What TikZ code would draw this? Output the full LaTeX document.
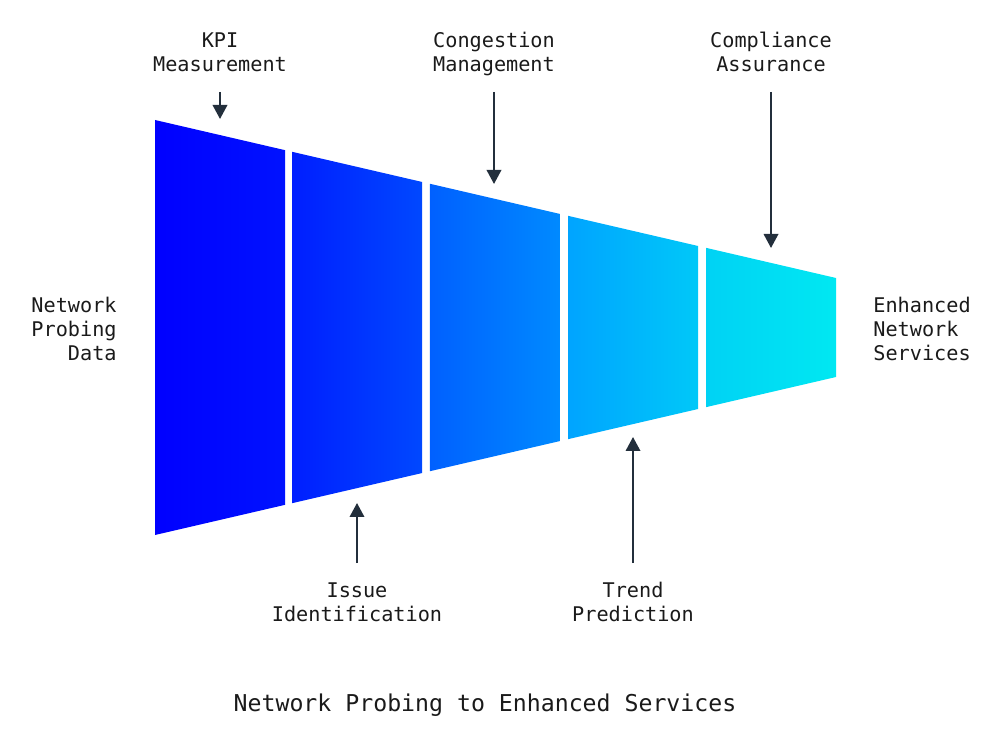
\documentclass[tikz,border=0pt]{standalone}
\usepackage{fontspec}
\setmonofont{DejaVu Sans Mono}
\usetikzlibrary{arrows.meta, calc}
\definecolor{sl1}{HTML}{0000FF}
\definecolor{sr1}{HTML}{0012FF}
\definecolor{sl2}{HTML}{001EFF}
\definecolor{sr2}{HTML}{0048FF}
\definecolor{sl3}{HTML}{0060FF}
\definecolor{sr3}{HTML}{008AFF}
\definecolor{sl4}{HTML}{00A4FF}
\definecolor{sr4}{HTML}{00C8F8}
\definecolor{sl5}{HTML}{00D2F4}
\definecolor{sr5}{HTML}{00E8F2}
\definecolor{cink}{HTML}{232F3C}
\definecolor{ctext}{HTML}{1A1A1A}
\tikzset{
  every picture/.style={font=\ttfamily},
  lbl/.style={font=\ttfamily\fontsize{11.5}{13.66}\selectfont, text=ctext, align=center, inner sep=0pt, text depth=0pt},
  arrow/.style={-{Triangle[length=0.28cm, width=0.29cm]}, draw=cink, line width=1.1pt},
  title/.style={font=\ttfamily\fontsize{13.2}{16}\selectfont, text=ctext, inner sep=0pt},
}

\begin{document}
\begin{tikzpicture}[x=0.02cm, y=-0.02cm]
  \useasboundingbox (0,0) rectangle (1000,749);
  \coordinate (tl) at (155,120);
  \coordinate (tr) at (836,278);
  \coordinate (bl) at (155,535);
  \coordinate (br) at (836,377);
  % funnel in five slices
  \foreach \a/\b/\i in {0/0.1909/1, 0.2012/0.3921/2, 0.4038/0.5947/3, 0.6065/0.7974/4, 0.8091/1/5} {
    \shade[left color=sl\i, right color=sr\i]
      ($(tl)!\a!(tr)$) -- ($(tl)!\b!(tr)$) -- ($(bl)!\b!(br)$) -- ($(bl)!\a!(br)$) -- cycle;
  }
  \node[lbl, anchor=south] (kpi) at (220,72) {KPI\\Measurement};
  \node[lbl, anchor=south] (cong) at (494,72) {Congestion\\Management};
  \node[lbl, anchor=south] (comp) at (771,72) {Compliance\\Assurance};
  \node[lbl, anchor=north] (issue) at (357,582) {Issue\\Identification};
  \node[lbl, anchor=north] (trend) at (633,582) {Trend\\Prediction};
  \node[lbl, anchor=east, align=right] (src) at (117,329) {Network\\Probing\\Data};
  \node[lbl, anchor=west, align=left] (dst) at (873,329) {Enhanced\\Network\\Services};
  \node[title, anchor=base] (ttl) at (485,711) {Network Probing to Enhanced Services};
  \coordinate (kpiTip) at (220,119);
  \coordinate (congTip) at (494,184);
  \coordinate (compTip) at (771,248);
  \coordinate (issueTip) at (357,503);
  \coordinate (trendTip) at (633,437);
  \draw[arrow, shorten <=0.4cm] (kpi.south) -- (kpiTip);
  \draw[arrow, shorten <=0.4cm] (cong.south) -- (congTip);
  \draw[arrow, shorten <=0.4cm] (comp.south) -- (compTip);
  \draw[arrow, shorten <=0.38cm] (issue.north) -- (issueTip);
  \draw[arrow, shorten <=0.38cm] (trend.north) -- (trendTip);
\end{tikzpicture}
\end{document}
